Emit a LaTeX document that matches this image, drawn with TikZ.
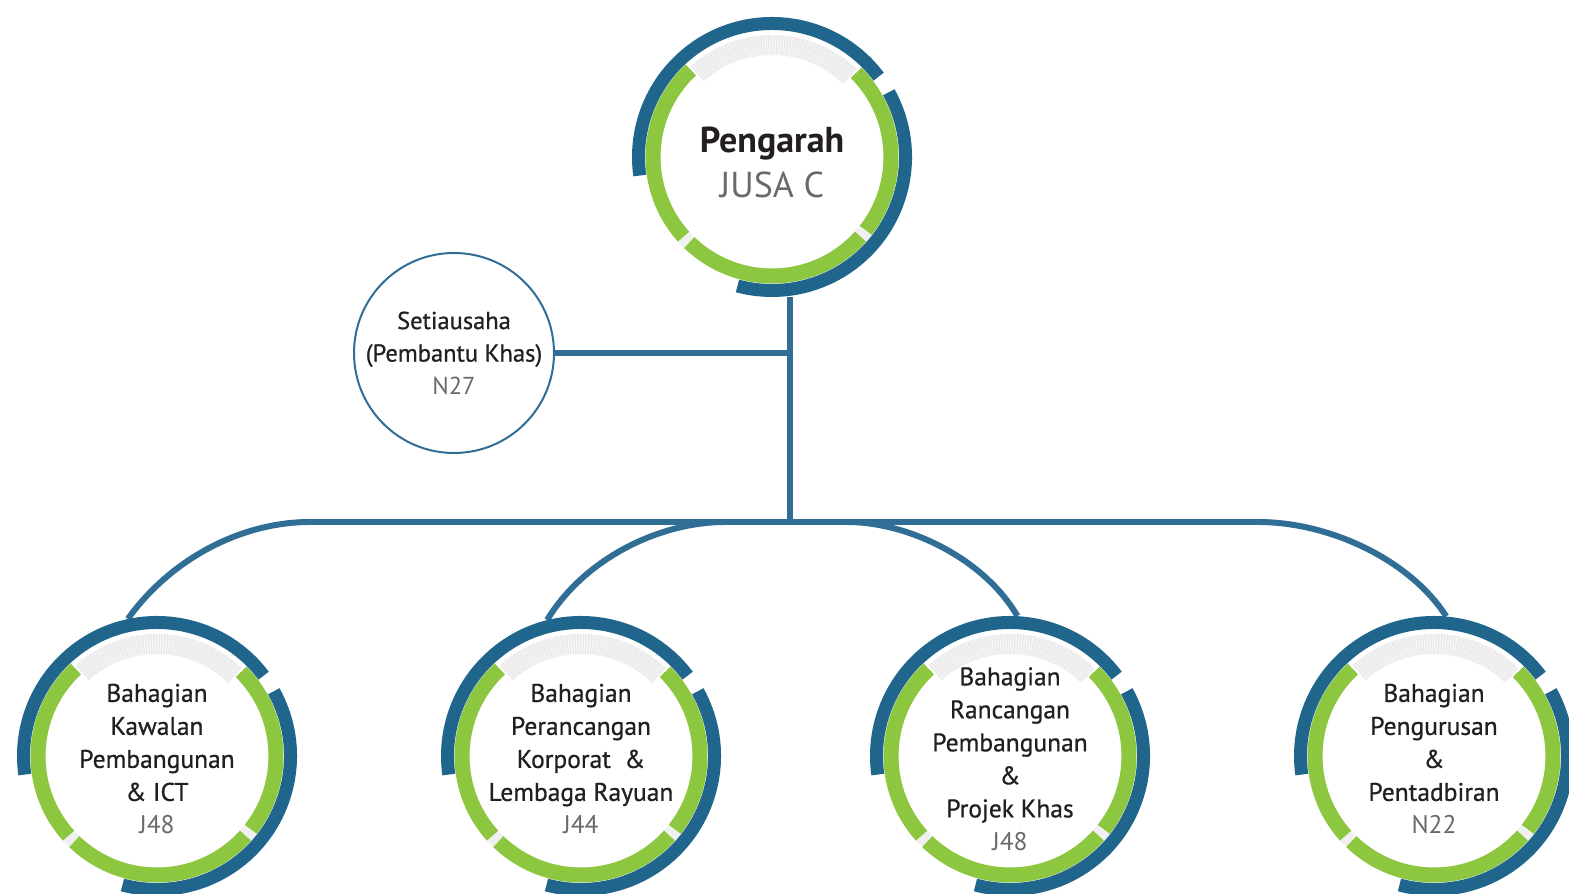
\documentclass[tikz,border=0pt]{standalone}
\usepackage{fontspec}
\setmainfont{PT Sans}
\newfontfamily\semifont[FakeBold=0.7]{PT Sans}
\definecolor{ringblue}{RGB}{32,102,140}
\definecolor{linkblue}{RGB}{48,110,150}
\definecolor{ringgreen}{RGB}{141,198,63}
\definecolor{txtdark}{RGB}{35,31,32}
\definecolor{txtgray}{RGB}{105,105,108}
\newcommand\ringarc[5]{%
  \draw[#5] ([shift={(#2:#4)}]#1.center) arc[start angle=#2, end angle=#3, radius=#4];}
\newcommand\drawring[1]{%
  \ringarc{#1}{46}{132}{112pt}{hatchbase}%
  \ringarc{#1}{46}{132}{112pt}{hatchlines}%
  \ringarc{#1}{222}{226}{119pt}{gapfill}%
  \ringarc{#1}{318}{322}{119pt}{gapfill}%
  \ringarc{#1}{133}{222}{119pt}{greenband}%
  \ringarc{#1}{226}{318}{119pt}{greenband}%
  \ringarc{#1}{322}{405}{119pt}{greenband}%
  \ringarc{#1}{37}{188}{133.5pt}{blueband}%
  \ringarc{#1}{29}{-105}{133.5pt}{blueband}%
}
\tikzset{
  hatchbase/.style={draw=gray!6, line width=20pt},
  hatchlines/.style={draw=gray!18, line width=20pt, dash pattern=on 1.2pt off 1.4pt},
  gapfill/.style={draw=gray!12, line width=15pt},
  greenband/.style={draw=ringgreen, line width=15pt},
  blueband/.style={draw=ringblue, line width=13pt},
  ringnode/.style={circle, minimum size=280pt, inner sep=0pt},
  secnode/.style={circle, draw=linkblue, line width=2pt, minimum size=200pt, inner sep=0pt, fill=white},
  unittext/.style={align=center, text=txtdark, font=\semifont\fontsize{25.5}{33}\selectfont},
  sectext/.style={align=center, text=txtdark, font=\semifont\fontsize{24.5}{32.5}\selectfont},
  toptext/.style={align=center, text=txtdark, font=\fontsize{36}{45}\selectfont},
  link/.style={draw=linkblue, line width=6pt},
}
\newcommand\grade[1]{\textcolor{txtgray}{\mdseries\fontspec{PT Sans}#1}}
\begin{document}
\begin{tikzpicture}[x=1pt,y=1pt]
\useasboundingbox[fill=white] (0,0) rectangle (1569,894);
% anchor nodes
\node[ringnode] (top) at (772,737) {};
\node[ringnode] (c1) at (157,138) {};
\node[ringnode] (c2) at (581,138) {};
\node[ringnode] (c3) at (1010,138) {};
\node[ringnode] (c4) at (1434,138) {};
\coordinate (j) at (790,372);
\coordinate (bl) at (310,372);
\coordinate (br) at (1258,372);
\coordinate (b2) at (725,372);
\coordinate (b3) at (847,372);
% connectors
\draw[link] (top.south -| j) -- (j);
\draw[link] (bl) -- (br);
\draw[link] (bl) .. controls (240,372) and (170,334) .. (c1.102);
\draw[link] (b2) .. controls (660,372) and (585,336) .. (c2.104);
\draw[link] (b3) .. controls (910,372) and (985,334) .. (c3.87);
\draw[link] (br) .. controls (1330,372) and (1410,334) .. (c4.85);
% secretary
\node[secnode] (sec) at (454,541) {};
\draw[link] (sec.east) -- (sec.east -| j);
\node[sectext] at (sec.center) {Setiausaha\\(Pembantu Khas)\\\grade{N27}};
% rings
\drawring{top}
\drawring{c1}
\drawring{c2}
\drawring{c3}
\drawring{c4}
% texts
\node[toptext] at ([yshift=-5pt]top.center) {\textbf{Pengarah}\\\grade{JUSA C}};
\node[unittext] at ([yshift=-3pt]c1.center) {Bahagian\\Kawalan\\Pembangunan\\\& ICT\\\grade{J48}};
\node[unittext] at ([yshift=-3pt]c2.center) {Bahagian\\Perancangan\\Korporat~~\&\\Lembaga Rayuan\\\grade{J44}};
\node[unittext] at ([yshift=-3pt]c3.center) {Bahagian\\Rancangan\\Pembangunan\\\&\\Projek Khas\\\grade{J48}};
\node[unittext] at ([yshift=-3pt]c4.center) {Bahagian\\Pengurusan\\\&\\Pentadbiran\\\grade{N22}};
\end{tikzpicture}
\end{document}
